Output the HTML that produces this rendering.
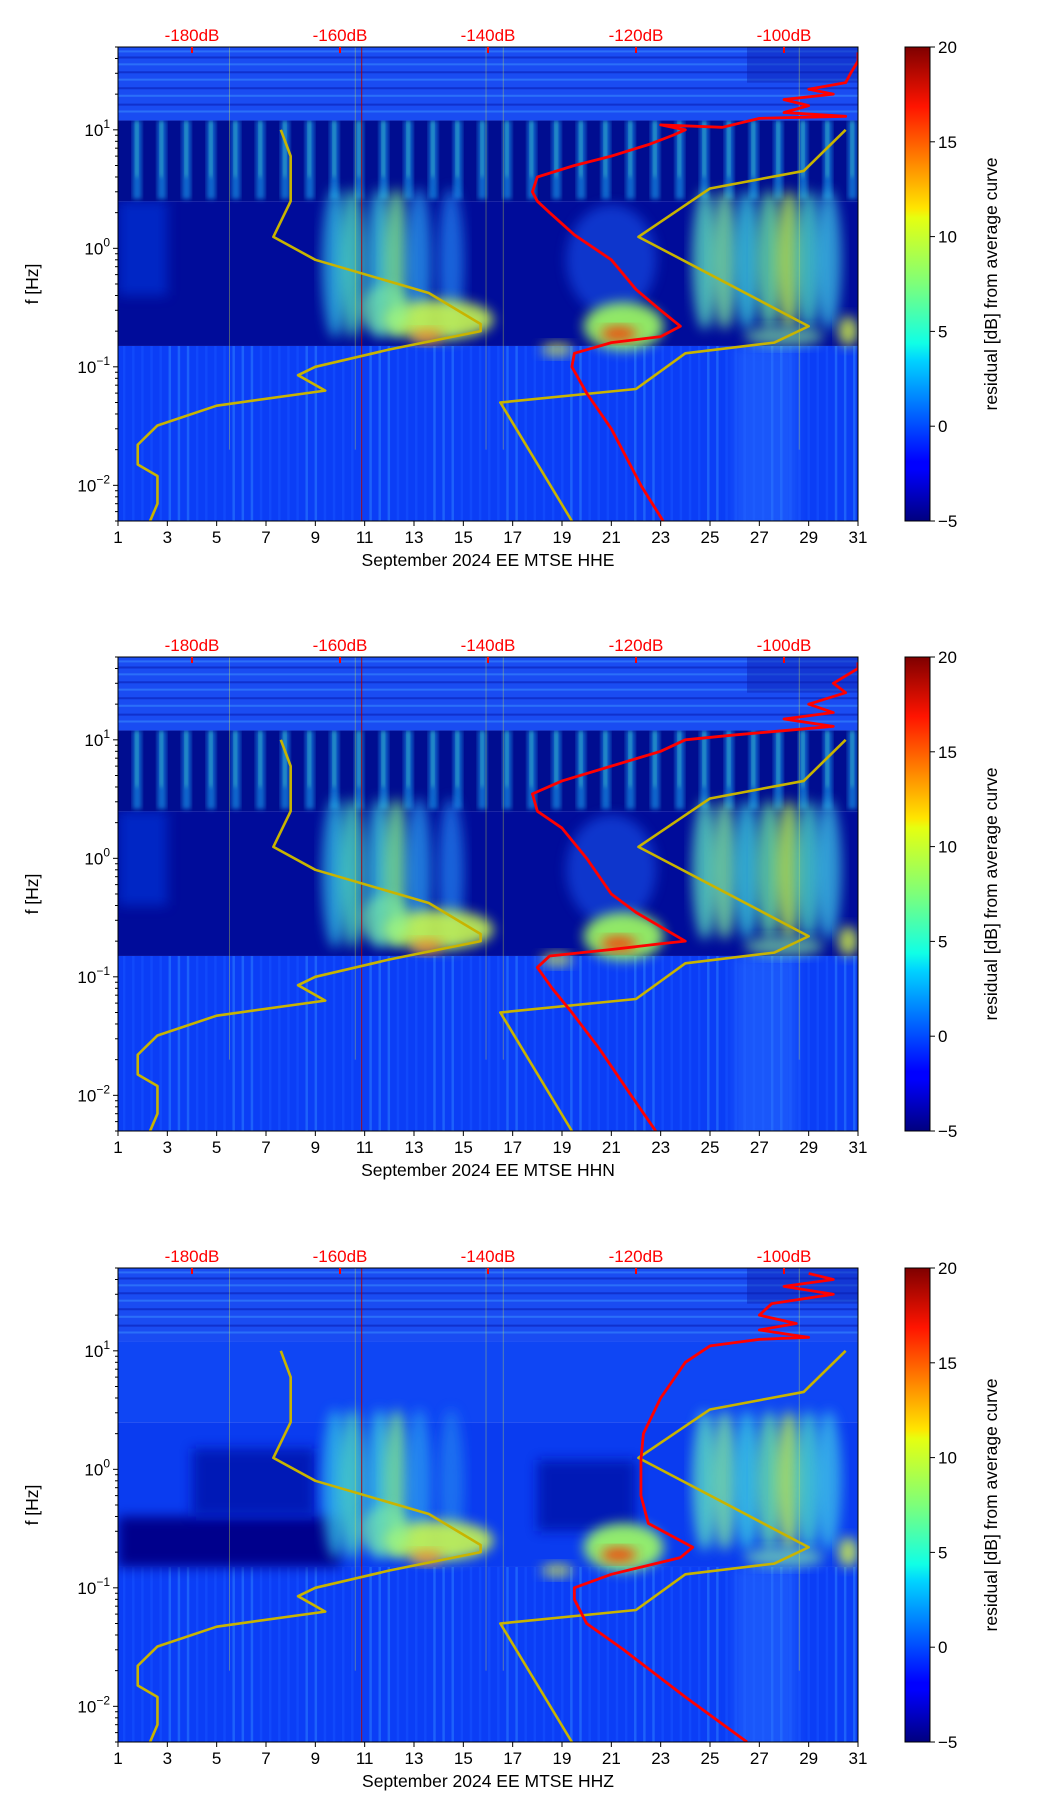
<!DOCTYPE html>
<html><head><meta charset="utf-8"><style>
body{margin:0;background:#fff}
svg{display:block;font-family:"Liberation Sans","DejaVu Sans",sans-serif}
</style></head><body>
<svg id="fig" width="1052" height="1806" viewBox="0 0 1052 1806" xmlns="http://www.w3.org/2000/svg">
<defs>
<linearGradient id="jet" x1="0" y1="1" x2="0" y2="0">
<stop offset="0" stop-color="#00007f"/><stop offset="0.11" stop-color="#0000ff"/><stop offset="0.125" stop-color="#0000ff"/>
<stop offset="0.34" stop-color="#00d4ff"/><stop offset="0.375" stop-color="#10ffe6"/><stop offset="0.5" stop-color="#7dff7a"/>
<stop offset="0.64" stop-color="#e6ff10"/><stop offset="0.66" stop-color="#ffe500"/><stop offset="0.875" stop-color="#ff1400"/><stop offset="1" stop-color="#7f0000"/>
</linearGradient>
<filter id="blur" x="-30%" y="-30%" width="160%" height="160%"><feGaussianBlur stdDeviation="6"/></filter>
<filter id="blur2" x="-20%" y="-20%" width="140%" height="140%"><feGaussianBlur stdDeviation="2.5"/></filter>
</defs>
</svg>
<script>
// ---- data ----
const dayTicks = [1,3,5,7,9,11,13,15,17,19,21,23,25,27,29,31];
const freqTickExp = [-2,-1,0,1];
const dbTickLabels = ["-180dB","-160dB","-140dB","-120dB","-100dB"];
const dbTickDays = [4,10,16,22,28];
const cbTicks = [-5,0,5,10,15,20];
const channels = ["HHE","HHN","HHZ"];
// yellow model curves (day, Hz)
const yellowADays = [7.6,8,8,7.3,9,13.6,15.7,15.7,12,9,8.3,9.4,5,2.6,1.8,1.8,2.6,2.6,2.3];
const yellowAFreq = [10,6,2.5,1.25,0.8,0.42,0.23,0.2,0.14,0.1,0.085,0.063,0.047,0.032,0.022,0.015,0.012,0.007,0.005];
const yellowBDays = [19.4,16.5,22,24,27.6,29,22.1,25,28.8,30.5];
const yellowBFreq = [0.005,0.05,0.065,0.13,0.16,0.22,1.25,3.2,4.5,10];
// red average PSD curves (day position on dB scale, Hz)
const red1Days = [23.1,22.2,21,20,19.4,19.5,21,23,23.8,23,22,21,19.5,18.5,18,17.8,18,19.5,21,22.5,23.5,24,23,25.5,27,30.5,28,29,28,30,29,30.5,30.7,31,31];
const red1Freq = [0.005,0.01,0.03,0.06,0.1,0.13,0.16,0.18,0.22,0.3,0.45,0.8,1.3,2,2.5,3,4,5,6,7.5,9,10,11,10.5,12.5,13,14,16,18,20,22,25,30,38,45];
const red2Days = [22.8,21.8,20.5,19.4,18.6,18,18.5,21,23,24,22,21,20,19,18,17.8,19,21,23,24,26,30,28,30,29,30.5,30,31,31];
const red2Freq = [0.005,0.01,0.025,0.05,0.08,0.12,0.15,0.17,0.19,0.2,0.35,0.5,1,1.8,2.5,3.5,4.5,6,8,10,11,13,15,17,20,25,30,40,45];
const red3Days = [26.5,24,21.5,20,19.5,19.5,21,23.8,24.3,22.5,22.2,22.2,22.3,23,24,25,27,29,27,28.5,27,27.5,30,28,30,29];
const red3Freq = [0.005,0.012,0.03,0.05,0.08,0.1,0.13,0.18,0.22,0.35,0.6,1.2,2,4,8,11,12.5,13,15,17,20,25,30,35,40,45];
const redDays = [red1Days,red2Days,red3Days];
const redFreq = [red1Freq,red2Freq,red3Freq];

// ---- geometry ----
const NS="http://www.w3.org/2000/svg";
const svg=document.getElementById('fig');
const X0=118,X1=858,PH=474;
const panelTops=[47,657,1268];
const FMIN=0.005,FMAX=50;
function xs(d){return X0+(d-1)/30*(X1-X0);}
function ysF(top){return f=>top+(Math.log10(FMAX)-Math.log10(f))/(Math.log10(FMAX)-Math.log10(FMIN))*PH;}
function mk(tag,attrs,parent){const e=document.createElementNS(NS,tag);for(const k in attrs)e.setAttribute(k,attrs[k]);(parent||svg).appendChild(e);return e;}

channels.forEach((ch,pi)=>{
  const top=panelTops[pi], ys=ysF(top);
  const g=mk('g',{});
  
  
  const cid='clip'+pi;
  const cp=mk('clipPath',{id:cid},svg);
  mk('rect',{x:X0,y:top,width:X1-X0,height:PH},cp);
  const bg=mk('g',{'clip-path':'url(#'+cid+')'},g);
  
  
  const R=(d0,d1,f0,f1,c,op,filt)=>{const a={x:xs(d0),y:ys(f1),width:xs(d1)-xs(d0),height:ys(f0)-ys(f1),fill:c};if(op!==undefined)a.opacity=op;if(filt)a.filter='url(#'+filt+')';return mk('rect',a,bg);};
  const E=(d,f,rx,ry,c,op)=>mk('ellipse',{cx:xs(d),cy:ys(f),rx:rx,ry:ry,fill:c,opacity:op,filter:'url(#blur)'},bg);
  // base low band
  R(0,32,0.001,0.15,'#0b3ef6');
  for(let d=1.2;d<31;d+=0.37){R(d,d+0.1,0.004,0.15,(Math.round(d*7)%3==0)?'#2a7cff':'#1552ff',0.6);}
  R(26,28.5,0.004,0.15,'#2a70ff',0.5,'blur');
  // mid band
  if(pi<2){
    R(0,32,0.15,2.5,'#000c9a');
    R(1,3,0.4,2.5,'#0032d8',0.7,'blur');
    R(0,32,2.5,12,'#000d90');
    for(let d=1.6;d<31;d+=1){R(d,d+0.35,2.6,12,'#1890e8',0.7,'blur2');R(d+0.1,d+0.22,4,12,'#50e0c0',0.6,'blur2');}
  } else {
    R(0,32,0.15,2.5,'#0a3cf0');
    R(1,10,0.15,0.4,'#00008c',1,'blur');
    R(4,9,0.4,1.5,'#0018b0',0.9,'blur');
    R(18,22,0.3,1.2,'#0018b0',0.9,'blur');
    R(0,32,2.5,12,'#0f46f4');
  }
  // streak blobs (vertical)
  [[9.8,'#30c0e8'],[10.5,'#50e0c0'],[11.6,'#40d0e0'],[12.3,'#80f090'],[13.2,'#2a9cf0'],[14.5,'#2080f0']].forEach(([d,c])=>E(d,0.75,13,75,c,0.75));
  E(14,0.25,55,20,'#c8f850',0.9);E(13.5,0.18,16,7,'#ff9020',0.8);E(11.8,0.3,25,25,'#80f0a0',0.6);
  if(pi<2){E(21,0.8,45,55,'#1a60ff',0.5);}
  E(21.5,0.22,40,24,'#a0ff60',0.9);E(21.3,0.19,18,7,'#ff3000',0.9);E(18.8,0.14,16,7,'#e0f040',0.7);
  [[24.8,'#60e8c0'],[25.6,'#80f0a0'],[26.5,'#40d8e0'],[27.4,'#70f0a0'],[28.2,'#c0ff50'],[29,'#50e0c8'],[29.8,'#40c8e8']].forEach(([d,c])=>E(d,0.8,13,70,c,0.75));
  E(30.6,0.2,10,15,'#e0ff40',0.8);E(28,0.18,40,10,'#90ffa0',0.6);
  // top band
  R(0,32,12,60,'#1a4cf2');
  [14,16,19,22,26,30,35,40,45].forEach((f,i)=>R(1,31,f,f*1.04,i%2?'#0a1cb0':'#3a8cff',0.55));
  R(26.5,31,25,60,'#0a20b0',0.45);
  // vertical glitch lines
  [5.5,10.6,15.9,16.6,28.6].forEach(d=>R(d,d+0.04,0.02,50,'#e0f040',0.35));
  R(10.86,10.9,0.001,60,'#b00000',0.9);

  // lines
  const line=(dA,fA,c,w,name)=>{const p=mk('polyline',{points:dA.map((d,i)=>xs(d)+','+ys(fA[i])).join(' '),fill:'none',stroke:c,'stroke-width':w,'stroke-linejoin':'round'},bg);};
  line(yellowADays,yellowAFreq,'#c8b400',2.6,'model-curve-low');
  line(yellowBDays,yellowBFreq,'#c8b400',2.6,'model-curve-high');
  line(redDays[pi],redFreq[pi],'#ff0000',2.8,'average-psd-curve');

  // frame
  mk('rect',{x:X0,y:top,width:X1-X0,height:PH,fill:'none',stroke:'#000','stroke-width':1},g);
  dayTicks.forEach(d=>{mk('line',{x1:xs(d),x2:xs(d),y1:top+PH,y2:top+PH+5,stroke:'#000'},g);
    const t=mk('text',{x:xs(d),y:top+PH+22,'font-size':17,'text-anchor':'middle'},g);t.textContent=d;
    });
  const xl=mk('text',{x:(X0+X1)/2,y:top+PH+45,'font-size':17.5,'text-anchor':'middle'},g);
  xl.textContent='September 2024 EE MTSE  '+ch;
  
  for(let e=-3;e<=1;e++)for(let m=1;m<10;m++){const f=m*Math.pow(10,e);if(f<FMIN||f>FMAX)continue;
    mk('line',{x1:X0-(m==1?5:3),x2:X0,y1:ys(f),y2:ys(f),stroke:'#000'},g);}
  freqTickExp.forEach(e=>{const t=mk('text',{x:X0-8,y:ys(Math.pow(10,e))+6,'font-size':17,'text-anchor':'end'},g);
    t.innerHTML='10<tspan dy="-8" font-size="12">'+(e<0?'\u2212'+(-e):e)+'</tspan>';
    });
  const yl=mk('text',{x:0,y:0,'font-size':17.5,'text-anchor':'middle',transform:'translate(38,'+(top+PH/2)+') rotate(-90)'},g);
  yl.textContent='f [Hz]';
  dbTickDays.forEach((d,i)=>{mk('line',{x1:xs(d),x2:xs(d),y1:top,y2:top+6,stroke:'#ff0000','stroke-width':2},g);
    const t=mk('text',{x:xs(d),y:top-6,'font-size':17,'text-anchor':'middle',fill:'#ff0000'},g);t.textContent=dbTickLabels[i];
    });
  const CX=905,CW=25;
  const cb=mk('rect',{x:CX,y:top,width:CW,height:PH,fill:'url(#jet)',stroke:'#000','stroke-width':1},g);
  
  cbTicks.forEach(v=>{const y=top+PH-(v+5)/25*PH;mk('line',{x1:CX+CW,x2:CX+CW+5,y1:y,y2:y,stroke:'#000'},g);
    const t=mk('text',{x:CX+CW+8,y:y+6,'font-size':17},g);t.textContent=v<0?'\u2212'+(-v):v;
    });
  const cl=mk('text',{x:0,y:0,'font-size':17.5,'text-anchor':'middle',transform:'translate(997,'+(top+PH/2)+') rotate(-90)'},g);
  cl.textContent='residual [dB] from average curve';
});
</script>
</body></html>
